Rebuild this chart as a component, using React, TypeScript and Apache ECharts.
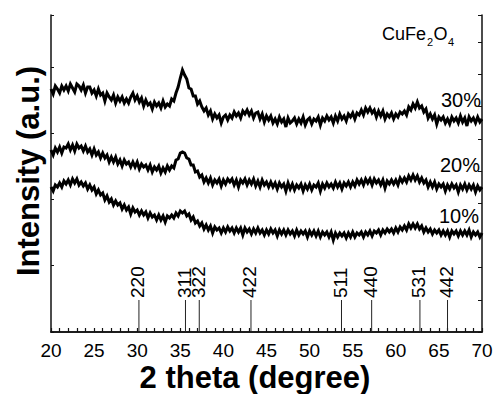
import React, { useEffect, useRef } from "react";
import * as echarts from "echarts";

// 2-theta sampling grid (degrees)
const ANGLE_START = 20;
const ANGLE_STEP = 0.25;

// Intensity (a.u.), one value per 0.25 deg, 20..70
const S30 = [
  243, 238, 246, 243, 239, 246, 242, 246, 241, 248, 244, 240, 248, 246, 242, 247,
  239, 245, 245, 239, 242, 236, 243, 237, 239, 231, 239, 235, 232, 237, 229, 235,
  231, 235, 229, 233, 229, 235, 239, 232, 236, 230, 234, 226, 232, 227, 229, 223,
  230, 226, 229, 224, 231, 225, 228, 226, 233, 231, 239, 245, 254, 262, 257, 253,
  244, 243, 236, 236, 228, 231, 225, 221, 224, 217, 221, 213, 218, 214, 217, 209,
  215, 217, 212, 217, 214, 220, 216, 219, 214, 221, 218, 222, 217, 221, 214, 219,
  220, 213, 218, 210, 216, 212, 216, 209, 213, 208, 215, 210, 213, 205, 214, 209,
  211, 214, 208, 213, 209, 215, 207, 212, 214, 208, 213, 211, 215, 207, 214, 211,
  216, 212, 215, 209, 216, 211, 218, 213, 216, 211, 218, 215, 219, 213, 219, 217,
  222, 217, 224, 220, 224, 219, 222, 215, 221, 216, 221, 213, 218, 215, 219, 213,
  218, 215, 220, 218, 221, 217, 225, 222, 228, 224, 230, 224, 226, 220, 223, 214,
  218, 213, 217, 208, 215, 212, 215, 209, 213, 208, 215, 211, 214, 209, 216, 210,
  214, 206, 215, 211, 214, 209, 215, 210, 213,
];

const S20 = [
  182, 177, 184, 180, 185, 179, 185, 184, 188, 182, 187, 181, 188, 184, 186, 181,
  186, 180, 183, 177, 183, 177, 180, 174, 179, 174, 177, 170, 175, 170, 175, 168,
  172, 166, 172, 168, 170, 165, 170, 165, 170, 163, 168, 165, 167, 162, 167, 160,
  165, 162, 166, 159, 164, 160, 166, 162, 166, 164, 172, 173, 179, 180, 179, 174,
  173, 167, 167, 160, 161, 155, 157, 150, 154, 149, 154, 147, 152, 149, 153, 146,
  152, 148, 153, 150, 153, 147, 152, 145, 152, 149, 153, 147, 152, 148, 153, 146,
  151, 145, 152, 147, 150, 145, 150, 145, 149, 143, 149, 145, 148, 141, 149, 143,
  148, 142, 147, 144, 148, 141, 147, 143, 148, 142, 147, 145, 149, 141, 148, 144,
  149, 145, 148, 144, 150, 145, 149, 143, 149, 146, 150, 145, 150, 146, 152, 148,
  152, 147, 153, 149, 153, 147, 153, 149, 152, 147, 152, 144, 151, 148, 152, 148,
  152, 147, 154, 150, 154, 150, 156, 152, 157, 152, 156, 150, 154, 149, 152, 145,
  150, 145, 150, 143, 148, 145, 148, 141, 147, 143, 148, 144, 147, 140, 147, 143,
  148, 142, 147, 143, 147, 140, 146, 142, 145,
];

const S10 = [
  145, 141, 147, 145, 149, 145, 151, 148, 152, 147, 153, 149, 153, 147, 150, 146,
  149, 143, 147, 142, 145, 138, 142, 137, 139, 132, 136, 130, 133, 127, 131, 127,
  129, 123, 127, 122, 125, 118, 124, 120, 122, 117, 121, 117, 120, 114, 119, 115,
  117, 112, 117, 112, 116, 110, 116, 114, 117, 114, 119, 116, 121, 119, 121, 116,
  118, 112, 115, 109, 111, 106, 109, 103, 107, 102, 106, 99, 105, 102, 104, 99,
  104, 100, 105, 101, 104, 99, 104, 100, 104, 97, 104, 100, 103, 98, 103, 99,
  104, 99, 102, 97, 102, 98, 103, 99, 102, 96, 102, 98, 102, 97, 102, 98,
  101, 96, 102, 97, 101, 98, 101, 95, 101, 97, 101, 96, 101, 95, 100, 97,
  100, 95, 100, 92, 99, 95, 99, 96, 99, 94, 99, 95, 100, 95, 99, 97,
  100, 95, 100, 97, 101, 96, 101, 99, 102, 97, 102, 99, 103, 100, 103, 99,
  104, 100, 105, 102, 106, 102, 108, 104, 108, 104, 108, 103, 106, 100, 104, 100,
  103, 98, 102, 99, 102, 97, 101, 97, 101, 95, 101, 98, 101, 96, 101, 97,
  101, 97, 102, 95, 100, 97, 100, 95, 99,
];

// Reference (JCPDS) reflections
const PEAK_POS = [30.2, 35.6, 37.2, 43.2, 53.7, 57.2, 62.8, 66.0];
const PEAK_HKL = ["220", "311", "322", "422", "511", "440", "531", "442"];
const PEAK_HEIGHT = 32;

const SERIES_NAMES = ["30%", "20%", "10%"];
const X_TICKS = { min: 20, max: 70, interval: 5 };

const FONT = '"Liberation Sans", Arial, Helvetica, sans-serif';

function toPairs(values: number[]) {
  return values.map((v, i) => [ANGLE_START + i * ANGLE_STEP, v]);
}

export default function App() {
  const ref = useRef<HTMLDivElement>(null);

  useEffect(() => {
    if (!ref.current) return;
    const chart = echarts.init(ref.current, undefined, { renderer: "svg" });

    const lineSeries = [S30, S20, S10].map((vals, k) => ({
      name: SERIES_NAMES[k],
      type: "line",
      data: toPairs(vals),
      showSymbol: false,
      symbol: "none",
      sampling: undefined,
      lineStyle: { color: "#000", width: 3, join: "miter", miterLimit: 4 },
      xAxisIndex: 0,
      yAxisIndex: 0,
      z: 3,
    }));

    const option: any = {
      animation: false,
      backgroundColor: "#fff",
      grid: { left: 51, right: 14, top: 15, bottom: 62 },
      xAxis: [
        {
          type: "value",
          min: X_TICKS.min,
          max: X_TICKS.max,
          interval: X_TICKS.interval,
          position: "bottom",
          axisLine: { show: true, lineStyle: { color: "#111", width: 1.5 } },
          axisTick: { show: true, inside: true, length: 4, lineStyle: { color: "#111", width: 1.2 } },
          minorTick: { show: true, splitNumber: 5, length: 4, lineStyle: { color: "#111", width: 1.2 } },
          axisLabel: { color: "#000", fontSize: 19, lineHeight: 19, fontFamily: FONT, margin: 9 },
          splitLine: { show: false },
        },
        {
          type: "value",
          min: X_TICKS.min,
          max: X_TICKS.max,
          position: "top",
          axisLine: { show: true, lineStyle: { color: "#111", width: 1.5 } },
          axisTick: { show: false },
          axisLabel: { show: false },
          splitLine: { show: false },
        },
      ],
      yAxis: [
        {
          type: "value",
          min: 0,
          max: 317,
          interval: 66.3,
          position: "left",
          axisLine: { show: true, lineStyle: { color: "#111", width: 1.5 } },
          axisTick: { show: true, inside: true, length: 3, lineStyle: { color: "#111", width: 1 } },
          axisLabel: { show: false },
          splitLine: { show: false },
        },
        {
          type: "value",
          min: 0,
          max: 317,
          interval: 32.2,
          position: "right",
          axisLine: { show: true, lineStyle: { color: "#111", width: 1.5 } },
          axisTick: { show: true, inside: true, length: 4, lineStyle: { color: "#111", width: 1 } },
          axisLabel: { show: false },
          splitLine: { show: false },
        },
      ],
      series: [
        ...lineSeries,
        {
          type: "custom",
          xAxisIndex: 0,
          yAxisIndex: 0,
          data: PEAK_POS.map((p) => [p, PEAK_HEIGHT]),
          renderItem: (params: any, api: any) => {
            const x = api.value(0);
            const h = api.value(1);
            const p0 = api.coord([x, 0]);
            const p1 = api.coord([x, h]);
            return {
              type: "group",
              children: [
                {
                  type: "line",
                  shape: { x1: p0[0], y1: p0[1], x2: p1[0], y2: p1[1] },
                  style: { stroke: "#222", lineWidth: 1 },
                },
                {
                  type: "text",
                  x: p1[0] - 1,
                  y: p1[1] - 2,
                  rotation: Math.PI / 2,
                  style: {
                    text: PEAK_HKL[params.dataIndex],
                    fontSize: 19,
                    fontFamily: FONT,
                    fill: "#000",
                    align: "left",
                    verticalAlign: "middle",
                  },
                },
              ],
            };
          },
          z: 4,
        },
      ],
      graphic: [
        {
          type: "text",
          x: 28,
          y: 171,
          rotation: Math.PI / 2,
          style: {
            text: "Intensity (a.u.)",
            font: `bold 31px ${FONT}`,
            fill: "#000",
            align: "center",
            verticalAlign: "middle",
          },
        },
        {
          type: "text",
          x: 255,
          y: 377,
          style: {
            text: "2 theta (degree)",
            font: `bold 31px ${FONT}`,
            fill: "#000",
            align: "center",
            verticalAlign: "middle",
          },
        },
        { type: "text", x: 481, y: 100, style: { text: SERIES_NAMES[0], font: `20px ${FONT}`, fill: "#000", align: "right", verticalAlign: "middle" } },
        { type: "text", x: 480, y: 165, style: { text: SERIES_NAMES[1], font: `20px ${FONT}`, fill: "#000", align: "right", verticalAlign: "middle" } },
        { type: "text", x: 479, y: 216, style: { text: SERIES_NAMES[2], font: `20px ${FONT}`, fill: "#000", align: "right", verticalAlign: "middle" } },
        { type: "text", x: 382, y: 34, style: { text: "CuFe", font: `18px ${FONT}`, fill: "#000", align: "left", verticalAlign: "middle" } },
        { type: "text", x: 427, y: 42, style: { text: "2", font: `11px ${FONT}`, fill: "#000", align: "left", verticalAlign: "middle" } },
        { type: "text", x: 433.5, y: 34, style: { text: "O", font: `18px ${FONT}`, fill: "#000", align: "left", verticalAlign: "middle" } },
        { type: "text", x: 448, y: 42, style: { text: "4", font: `11px ${FONT}`, fill: "#000", align: "left", verticalAlign: "middle" } },
      ],
    };

    chart.setOption(option);
    return () => chart.dispose();
  }, []);

  return (
    <div
      ref={ref}
      style={{ position: "fixed", left: 0, top: 0, width: 496, height: 394, background: "#fff" }}
    />
  );
}
